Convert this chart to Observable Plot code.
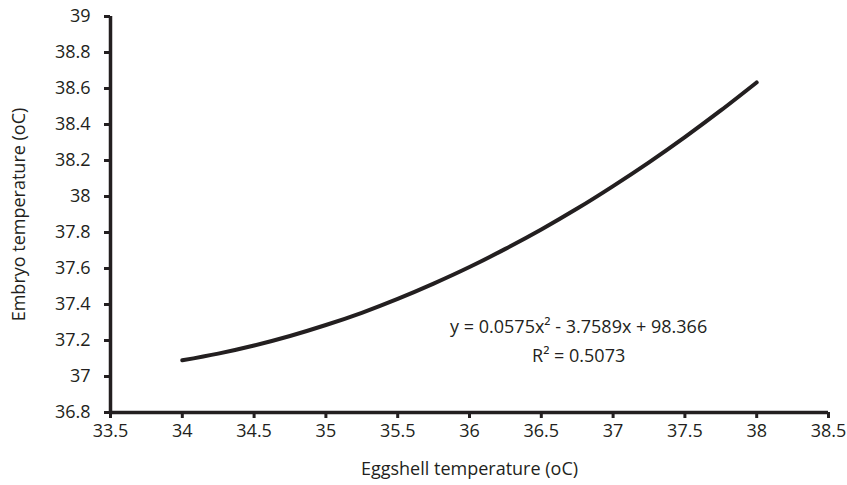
<!DOCTYPE html>
<html>
<head>
<meta charset="utf-8">
<script src="https://cdn.jsdelivr.net/npm/d3@7"></script>
<script src="https://cdn.jsdelivr.net/npm/@observablehq/plot@0.6"></script>
<style>
  html, body { margin: 0; padding: 0; background: #fff; }
  #chart svg { display: block; }
</style>
</head>
<body>
<div id="chart"></div>
<script>
// Fitted curve (eggshell temperature → embryo temperature, °C)
const eggshellTemp = [34, 34.25, 34.5, 34.75, 35, 35.25, 35.5, 35.75, 36, 36.25, 36.5, 36.75, 37, 37.25, 37.5, 37.75, 38];
const embryoTemp   = [37.090, 37.127, 37.172, 37.225, 37.286, 37.354, 37.431, 37.516, 37.608, 37.709, 37.817, 37.933, 38.058, 38.190, 38.330, 38.478, 38.634];

const xTicks = [33.5, 34, 34.5, 35, 35.5, 36, 36.5, 37, 37.5, 38, 38.5];
const yTicks = [36.8, 37, 37.2, 37.4, 37.6, 37.8, 38, 38.2, 38.4, 38.6, 38.8, 39];

const xLabel = "Eggshell temperature (oC)";
const yLabel = "Embryo temperature (oC)";

const equationLines = ["y = 0.0575x\u00B2 - 3.7589x + 98.366", "R\u00B2 = 0.5073"];
const equationPos = {x: 36.76, y: 37.214};

const curve = eggshellTemp.map((x, i) => ({x, y: embryoTemp[i]}));
const ink = "#231f20";

const chart = Plot.plot({
  width: 847,
  height: 485,
  marginLeft: 110,
  marginRight: 19,
  marginTop: 16,
  marginBottom: 73,
  style: {fontFamily: "'Open Sans', sans-serif", fontSize: "18px", color: ink, background: "#fff"},
  x: {domain: [33.5, 38.5]},
  y: {domain: [36.8, 39]},
  marks: [
    Plot.axisX({ticks: xTicks, tickFormat: d => String(d), tickSize: 6, tickPadding: 6,
      strokeWidth: 3, stroke: ink, fill: ink,
      label: xLabel, labelAnchor: "center", labelArrow: "none", labelOffset: 62}),
    Plot.axisY({ticks: yTicks, tickFormat: d => String(+d.toFixed(1)), tickSize: 6, tickPadding: 14,
      strokeWidth: 3, stroke: ink, fill: ink,
      label: yLabel, labelAnchor: "center", labelArrow: "none", labelOffset: 98}),
    Plot.ruleY([36.8], {stroke: ink, strokeWidth: 3.5}),
    Plot.ruleX([33.5], {stroke: ink, strokeWidth: 3.5}),
    Plot.line(curve, {x: "x", y: "y", curve: "natural", stroke: ink, strokeWidth: 4, strokeLinecap: "round"}),
    Plot.text([equationLines.join("\n")], {x: () => equationPos.x, y: () => equationPos.y,
      text: d => d, fill: ink, fontSize: 18, lineHeight: 1.6, textAnchor: "middle"})
  ]
});
document.getElementById("chart").appendChild(chart);
</script>
</body>
</html>
